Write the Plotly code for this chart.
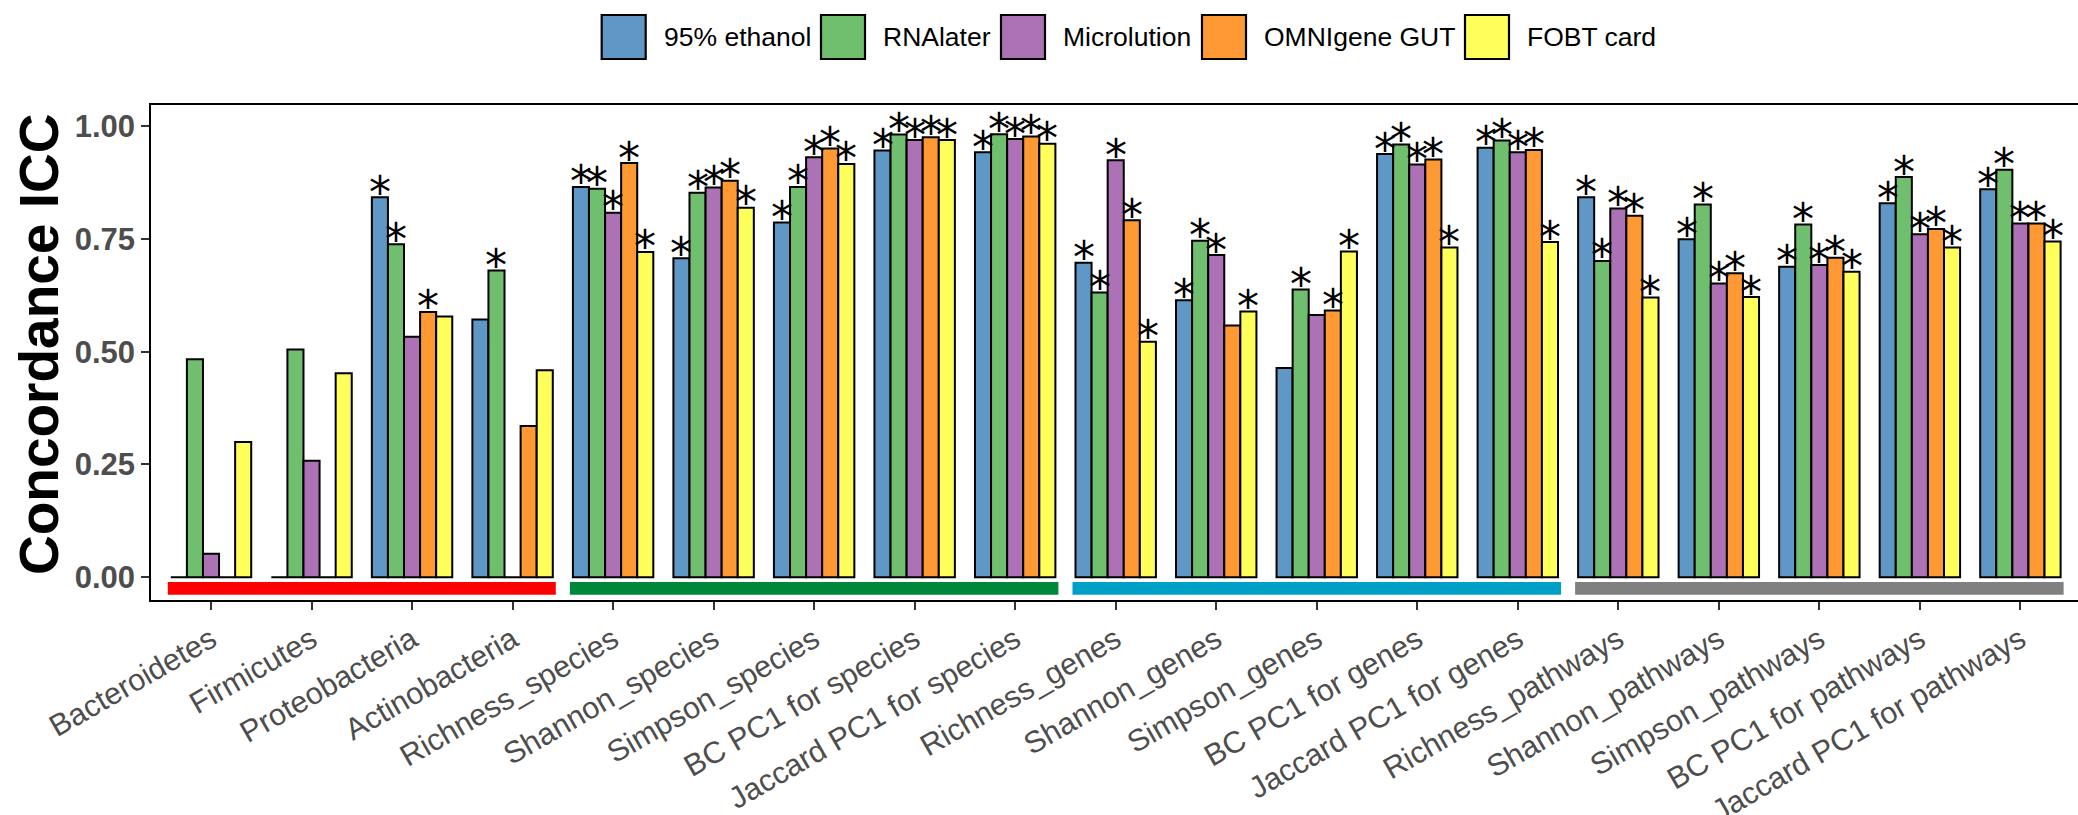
import plotly.graph_objects as go

categories = ["Bacteroidetes", "Firmicutes", "Proteobacteria", "Actinobacteria",
              "Richness_species", "Shannon_species", "Simpson_species",
              "BC PC1 for species", "Jaccard PC1 for species",
              "Richness_genes", "Shannon_genes", "Simpson_genes",
              "BC PC1 for genes", "Jaccard PC1 for genes",
              "Richness_pathways", "Shannon_pathways", "Simpson_pathways",
              "BC PC1 for pathways", "Jaccard PC1 for pathways"]

series_names = ["95% ethanol", "RNAlater", "Microlution", "OMNIgene GUT", "FOBT card"]

ethanol = [0, 0, 0.842, 0.571, 0.865, 0.707, 0.786, 0.946, 0.942, 0.697, 0.614, 0.464,
           0.938, 0.952, 0.842, 0.749, 0.688, 0.829, 0.860]
rnalater = [0.483, 0.505, 0.738, 0.680, 0.861, 0.852, 0.865, 0.981, 0.982, 0.631, 0.746,
            0.638, 0.959, 0.968, 0.701, 0.826, 0.782, 0.887, 0.903]
microlution = [0.052, 0.258, 0.533, 0, 0.808, 0.864, 0.931, 0.969, 0.971, 0.924, 0.714,
               0.581, 0.915, 0.942, 0.817, 0.651, 0.692, 0.760, 0.784]
omnigene = [0, 0, 0.588, 0.335, 0.918, 0.879, 0.950, 0.975, 0.977, 0.791, 0.558, 0.591,
            0.926, 0.947, 0.801, 0.674, 0.708, 0.772, 0.784]
fobt = [0.300, 0.452, 0.578, 0.459, 0.721, 0.819, 0.916, 0.969, 0.961, 0.522, 0.589,
        0.722, 0.731, 0.743, 0.620, 0.621, 0.677, 0.731, 0.744]

sig_ethanol = [0, 0, 1, 0, 1, 1, 1, 1, 1, 1, 1, 0, 1, 1, 1, 1, 1, 1, 1]
sig_rnalater = [0, 0, 1, 1, 1, 1, 1, 1, 1, 1, 1, 1, 1, 1, 1, 1, 1, 1, 1]
sig_microlution = [0, 0, 0, 0, 1, 1, 1, 1, 1, 1, 1, 0, 1, 1, 1, 1, 1, 1, 1]
sig_omnigene = [0, 0, 1, 0, 1, 1, 1, 1, 1, 1, 0, 1, 1, 1, 1, 1, 1, 1, 1]
sig_fobt = [0, 0, 0, 0, 1, 1, 1, 1, 1, 1, 1, 1, 1, 1, 1, 1, 1, 1, 1]

# feature groups: (first index, last index)
group_spans = [(0, 3), (4, 8), (9, 13), (14, 18)]
group_colors = ["#FF0000", "#00873A", "#00A0C6", "#808080"]

y_ticks = [0.0, 0.25, 0.5, 0.75, 1.0]
y_ticklabels = ["0.00", "0.25", "0.50", "0.75", "1.00"]

colors = ["#5F98C6", "#70BF6E", "#AD71B5", "#FF9933", "#FFFF5C"]
values = [ethanol, rnalater, microlution, omnigene, fobt]
sigs = [sig_ethanol, sig_rnalater, sig_microlution, sig_omnigene, sig_fobt]

W, H = 2078, 815
L, R, T, B = 151, 0, 105, 215
PW, PH = W - L - R, H - T - B

def px_x(px):
    return (px - L) / PW

def px_y(py):
    return (H - B - py) / PH

x_idx = list(range(len(categories)))
fig = go.Figure()
for name, vals, col in zip(series_names, values, colors):
    fig.add_trace(go.Bar(
        x=x_idx, y=vals, name=name, showlegend=False,
        marker=dict(color=col, line=dict(color="black", width=2)),
    ))

bar_w = 0.8 / len(series_names)
annotations = []
for j, (vals, sg) in enumerate(zip(values, sigs)):
    off = (j - (len(series_names) - 1) / 2) * bar_w
    for i, (v, s) in enumerate(zip(vals, sg)):
        if s:
            annotations.append(dict(
                x=i + off, y=v, xref="x", yref="y", text="*", showarrow=False,
                xanchor="center", yanchor="middle", yshift=5,
                font=dict(family="DejaVu Sans", size=44, color="black")))

shapes = []
for (a, b), gc in zip(group_spans, group_colors):
    shapes.append(dict(type="rect", xref="x", yref="y", x0=a - 0.43, x1=b + 0.43,
                       y0=-0.0386, y1=-0.0104, fillcolor=gc, line=dict(width=0),
                       layer="above"))

# legend drawn manually (large keys)
key_px = [601.7, 821, 1001, 1202, 1465]
for kx, name, col in zip(key_px, series_names, colors):
    shapes.append(dict(type="rect", xref="paper", yref="paper",
                       x0=px_x(kx), x1=px_x(kx + 44), y0=px_y(59), y1=px_y(15),
                       fillcolor=col, line=dict(color="black", width=2.2)))
    annotations.append(dict(x=px_x(kx + 60), y=px_y(37), xref="paper", yref="paper",
                            text=name, showarrow=False, xanchor="left", yanchor="middle",
                            font=dict(family="Liberation Sans, Arial", size=26.5, color="black")))

annotations.append(dict(x=px_x(39), y=px_y(345), xref="paper", yref="paper",
                        text="<b>Concordance ICC</b>", showarrow=False, textangle=-90,
                        xanchor="center", yanchor="middle",
                        font=dict(family="Liberation Sans, Arial", size=55, color="black")))

fig.update_layout(
    width=W, height=H, margin=dict(l=L, r=R, t=T, b=B, autoexpand=False),
    plot_bgcolor="white", paper_bgcolor="white",
    barmode="group", bargap=0.2, bargroupgap=0,
    shapes=shapes, annotations=annotations, showlegend=False,
    font=dict(family="Liberation Sans, Arial"),
)
fig.update_xaxes(
    range=[-0.597, 18.573], tickmode="array", tickvals=x_idx, ticktext=categories,
    tickangle=-30, tickfont=dict(family="Liberation Sans, Arial", size=30.5, color="#4D4D4D"),
    ticks="outside", ticklen=8, tickwidth=1.8, tickcolor="#333333",
    showline=True, linecolor="black", linewidth=1.6, mirror=True,
    showgrid=False, zeroline=False, automargin=False,
)
fig.update_yaxes(
    range=[-0.0503, 1.0466], tickmode="array", tickvals=y_ticks, ticktext=y_ticklabels,
    tickfont=dict(family="Liberation Sans, Arial", size=31, color="#4D4D4D", weight="bold"),
    ticks="outside", ticklen=8, tickwidth=1.8, tickcolor="#333333",
    showline=True, linecolor="black", linewidth=1.6,
    showgrid=False, zeroline=False, automargin=False,
)

fig.write_html("out.html", config={"displayModeBar": False},
               post_script="document.body.style.margin='0px';document.body.style.overflow='hidden';")
